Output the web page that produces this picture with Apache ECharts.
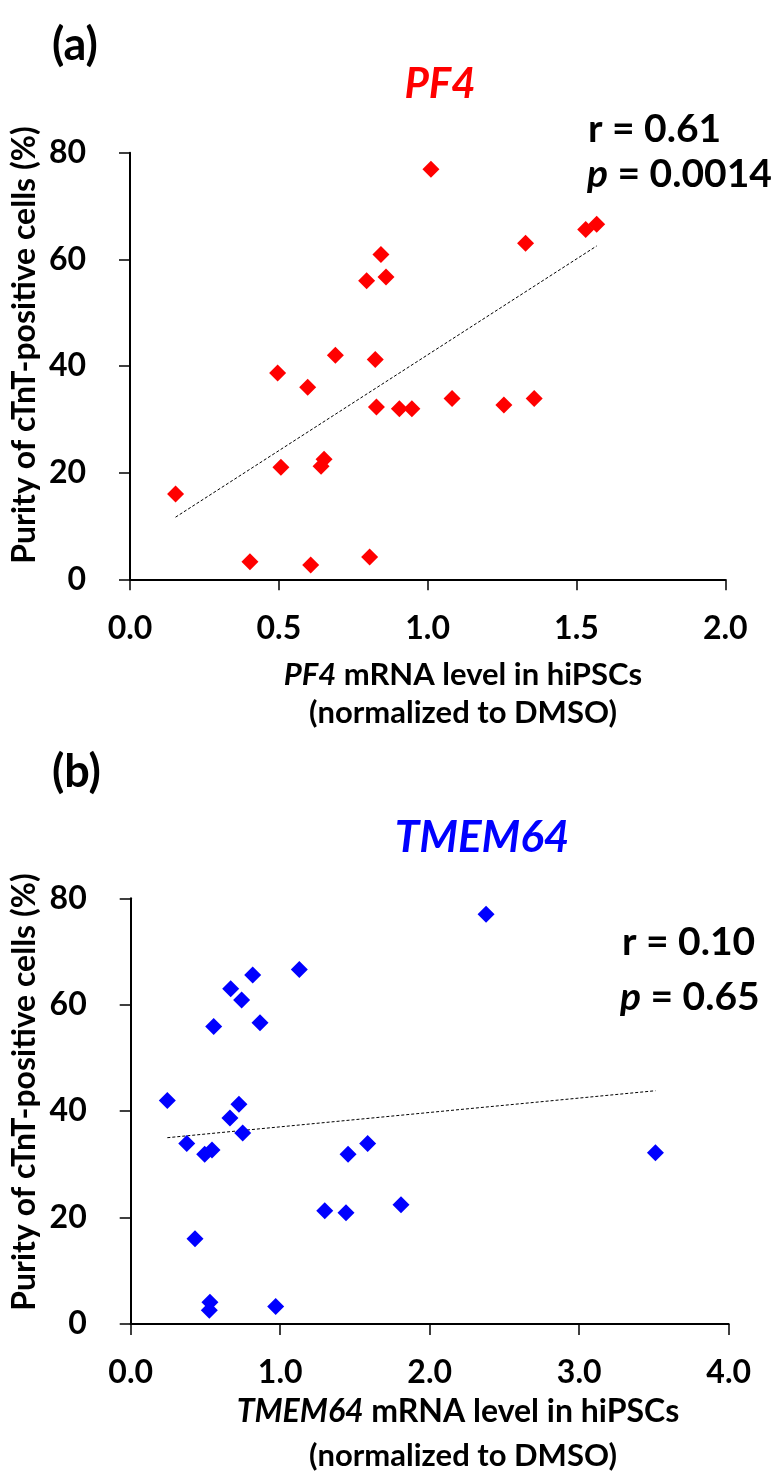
<!DOCTYPE html>
<html>
<head>
<meta charset="utf-8">
<script src="https://cdn.jsdelivr.net/npm/echarts@6/dist/echarts.min.js"></script>
<style>
html,body{margin:0;padding:0;background:#fff;}
#chart{width:781px;height:1483px;}
</style>
</head>
<body>
<div id="chart"></div>
<script>
// ---- data ----
const pf4X = [0.153,0.403,0.496,0.507,0.597,0.607,0.642,0.652,0.690,0.795,0.805,0.824,0.828,0.843,0.860,0.905,0.947,1.011,1.082,1.256,1.329,1.358,1.531,1.568];
const pf4Y = [16.0,3.3,38.7,21.0,36.0,2.7,21.2,22.5,42.0,56.0,4.2,41.2,32.3,60.9,56.7,32.0,32.0,76.9,33.9,32.7,63.0,33.9,65.6,66.6];
const tmemX = [0.245,0.375,0.430,0.495,0.544,0.530,0.526,0.555,0.664,0.669,0.724,0.742,0.749,0.816,0.865,0.970,1.128,1.298,1.440,1.454,1.585,1.808,2.377,3.510];
const tmemY = [42.0,33.9,16.0,31.9,32.7,4.1,2.6,55.9,38.7,63.0,41.3,60.9,35.9,65.6,56.6,3.3,66.6,21.3,20.9,31.9,33.9,22.4,77.0,32.2];
const yTicks = [0,20,40,60,80];
const xTicksA = [0.0,0.5,1.0,1.5,2.0];
const xTicksB = [0.0,1.0,2.0,3.0,4.0];
const statsA = ['r = 0.61','0.0014'];
const statsB = ['r = 0.10','0.65'];

const FONT = "Lato, 'Open Sans', sans-serif";

function zip(xs, ys){ return xs.map((x,i)=>[x, ys[i]]); }
function fit(xs, ys){
  const n = xs.length;
  const mx = xs.reduce((a,b)=>a+b,0)/n, my = ys.reduce((a,b)=>a+b,0)/n;
  let sxy=0, sxx=0;
  for(let i=0;i<n;i++){ sxy += (xs[i]-mx)*(ys[i]-my); sxx += (xs[i]-mx)*(xs[i]-mx); }
  const b = sxy/sxx, a = my - b*mx;
  const x0 = Math.min(...xs), x1 = Math.max(...xs);
  return [[x0, a+b*x0],[x1, a+b*x1]];
}

function xAxisCfg(gi, max, interval){
  return {
    type:'value', gridIndex:gi, min:0, max:max, interval:interval,
    axisLine:{show:true, onZero:false, lineStyle:{color:'#000', width:2}},
    axisTick:{show:true, length:11, lineStyle:{color:'#000', width:1.5}},
    splitLine:{show:false},
    axisLabel:{color:'#000', fontFamily:FONT, fontWeight:'bold', fontSize:32, margin:33,
      formatter:(v)=>v.toFixed(1)}
  };
}
function yAxisCfg(gi){
  return {
    type:'value', gridIndex:gi, min:yTicks[0], max:yTicks[yTicks.length-1], interval:20,
    axisLine:{show:true, onZero:false, lineStyle:{color:'#000', width:2}},
    axisTick:{show:true, length:11, lineStyle:{color:'#000', width:1.5}},
    splitLine:{show:false},
    axisLabel:{color:'#000', fontFamily:FONT, fontWeight:'bold', fontSize:32, margin:44}
  };
}

function txt(x, y, text, opts){
  opts = opts || {};
  const style = {
    text: text, fill: opts.fill || '#000',
    fontFamily: FONT, fontWeight:'bold', fontSize: opts.size || 31,
    fontStyle: opts.italic ? 'italic' : 'normal',
    align: opts.align || 'left', verticalAlign:'middle',
    textAlign: opts.align || 'left', textVerticalAlign:'middle'
  };
  if (opts.rich) style.rich = opts.rich;
  const el = {type:'text', x:x, y:y, style:style, silent:true};
  if (opts.rotation) el.rotation = opts.rotation;
  return el;
}
function richIt(size){
  return { i:{fontStyle:'italic', fontWeight:'bold', fontFamily:FONT, fontSize:size, fill:'#000'},
           n:{fontStyle:'normal', fontWeight:'bold', fontFamily:FONT, fontSize:size, fill:'#000'} };
}

const chart = echarts.init(document.getElementById('chart'), null, {renderer:'canvas'});
chart.setOption({
  backgroundColor:'#fff',
  animation:false,
  grid:[
    {left:130, top:152.7, width:595.3, height:426.6},
    {left:130.7, top:898.3, width:598, height:425.7}
  ],
  xAxis:[ xAxisCfg(0, xTicksA[xTicksA.length-1], 0.5), xAxisCfg(1, xTicksB[xTicksB.length-1], 1.0) ],
  yAxis:[ yAxisCfg(0), yAxisCfg(1) ],
  series:[
    {type:'line', xAxisIndex:0, yAxisIndex:0, data:fit(pf4X,pf4Y), symbol:'none', silent:true,
     lineStyle:{color:'#000', width:1, type:[3,2]}, z:1},
    {type:'scatter', xAxisIndex:0, yAxisIndex:0, data:zip(pf4X,pf4Y), symbol:'diamond', symbolSize:17,
     itemStyle:{color:'#FF0000', opacity:1}, z:2},
    {type:'line', xAxisIndex:1, yAxisIndex:1, data:fit(tmemX,tmemY), symbol:'none', silent:true,
     lineStyle:{color:'#000', width:1, type:[3,2]}, z:1},
    {type:'scatter', xAxisIndex:1, yAxisIndex:1, data:zip(tmemX,tmemY), symbol:'diamond', symbolSize:17,
     itemStyle:{color:'#0000FF', opacity:1}, z:2}
  ],
  graphic:[
    // panel (a)
    txt(52, 45, '(a)', {size:45}),
    txt(440, 84, 'PF4', {size:42, italic:true, fill:'#FF0000', align:'center'}),
    txt(588, 129, statsA[0], {size:39}),
    txt(587, 174, '{i|p}{n| = ' + statsA[1] + '}', {size:39, rich:richIt(39)}),
    txt(25, 345, 'Purity of cTnT-positive cells (%)', {size:32, align:'center', rotation:Math.PI/2}),
    txt(463, 675, '{i|PF4}{n| mRNA level in hiPSCs}', {size:31, align:'center', rich:richIt(31)}),
    txt(463, 713, '(normalized to DMSO)', {size:31, align:'center'}),
    // panel (b)
    txt(52, 772, '(b)', {size:45}),
    txt(482, 838, 'TMEM64', {size:44, italic:true, fill:'#0000FF', align:'center'}),
    txt(622, 942, statsB[0], {size:39}),
    txt(620, 997, '{i|p}{n| = ' + statsB[1] + '}', {size:39, rich:richIt(39)}),
    txt(25, 1092, 'Purity of cTnT-positive cells (%)', {size:32, align:'center', rotation:Math.PI/2}),
    txt(458, 1412, '{i|TMEM64}{n| mRNA level in hiPSCs}', {size:32, align:'center', rich:richIt(32)}),
    txt(463, 1456, '(normalized to DMSO)', {size:31, align:'center'})
  ]
});
</script>
</body>
</html>
